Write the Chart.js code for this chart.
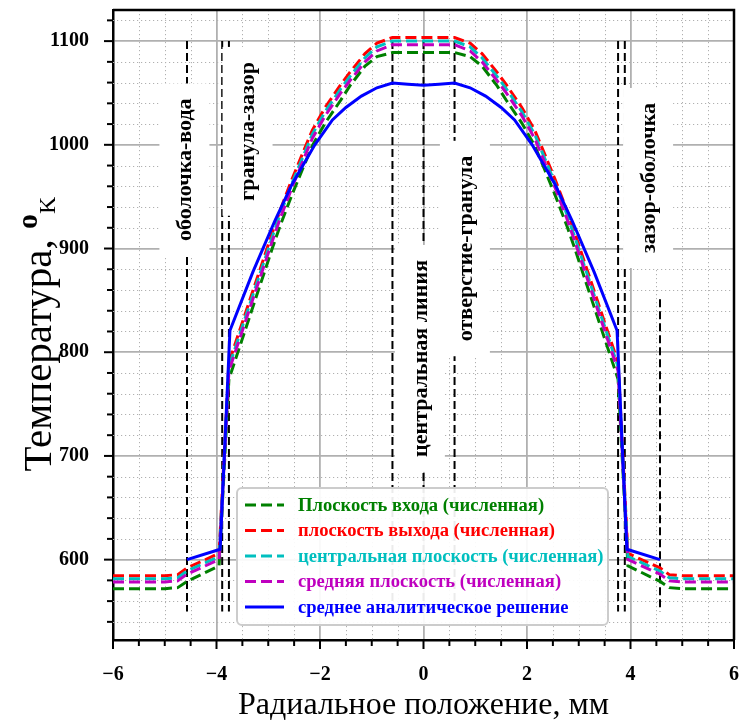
<!DOCTYPE html>
<html><head><meta charset="utf-8">
<script src="https://cdn.jsdelivr.net/npm/chart.js@4/dist/chart.umd.min.js"></script>
<style>html,body{margin:0;padding:0;background:#fff}</style>
</head><body>
<canvas id="c" width="742" height="722"></canvas>
<script>
// ---------- DATA ----------
const xNum = [-6,-5,-4.75,-4.57,-3.95,-3.76,-2.93,-2.77,-2.54,-2.35,-2.15,-1.9,-1.6,-1.42,-1.13,-0.9,-0.6,0,0.6,0.9,1.13,1.42,1.6,1.9,2.15,2.35,2.54,2.77,2.93,3.76,3.95,4.57,4.75,5,6];
const yInlet  = [572,572,573,579,594,774,899,922,952,975,999,1021,1043,1057,1076,1085,1089,1089,1089,1085,1076,1057,1043,1021,999,975,952,922,899,774,594,579,573,572,572];
const yOutlet = [584.5,584.5,585.5,592,606,790,914,937,967,990,1014,1036,1058,1070,1088,1098,1103.5,1103.5,1103.5,1098,1088,1070,1058,1036,1014,990,967,937,914,790,606,592,585.5,584.5,584.5];
const yCentral = [581.5,581.5,582.5,589,603,786,910,933,963,986,1010,1032,1054,1066,1084,1094.5,1100,1100,1100,1094.5,1084,1066,1054,1032,1010,986,963,933,910,786,603,589,582.5,581.5,581.5];
const yMiddle = [578.5,578.5,579.5,586,600,782,906,929,959,982,1006,1028,1050,1062,1080,1090.5,1096.5,1096.5,1096.5,1090.5,1080,1062,1050,1028,1006,982,959,929,906,782,600,586,579.5,578.5,578.5];
const xAna = [-4.57,-3.93,-3.74,-3.3,-2.87,-2.54,-2.1,-1.76,-1.5,-1.2,-0.9,-0.6,-0.3,0,0.3,0.6,0.9,1.2,1.5,1.76,2.1,2.54,2.87,3.3,3.74,3.93,4.57];
const yAna = [600,610,821,877,927,962,1000,1024,1036,1047,1055,1059.5,1058.5,1057.5,1058.5,1059.5,1055,1047,1036,1024,1000,962,927,877,821,610,600];
const seriesLabels = ['Плоскость входа (численная)','плоскость выхода (численная)','центральная плоскость (численная)','средняя плоскость (численная)','среднее аналитическое решение'];
const xTicks = [-6,-4,-2,0,2,4,6];
const yTicks = [600,700,800,900,1000,1100];
const interfaceX = [-4.57,-3.89,-3.76,-0.6,0,0.6,3.76,3.89,4.57];
const interfaceYmin = [550,550,550,550,550,550,550,550,550];
const interfaceYmax = [1100,1100,1100,1100,1100,1100,1100,1100,851];
const annoText = ['оболочка-вода','гранула-зазор','центральная линия','отверстие-гранула','зазор-оболочка'];
const annoX = [-4.62,-3.40,-0.07,0.80,4.34];
const annoY = [976,1013,794,900,968];
const xTitle = 'Радиальное положение, мм';
const yTitleMain = 'Температура, ';
const yTitleSup = 'o';
const yTitleSub = 'K';

// ---------- STYLE ----------
const SERIF = '"Liberation Serif", "Times New Roman", serif';
const colors = ['#008000','#ff0000','#00bfbf','#bf00bf','#0000ff'];
const toXY = (xs, ys) => xs.map((x, i) => ({x, y: ys[i]}));
const fmt = v => (v < 0 ? '\u2212' + Math.abs(v) : String(v));

const deco = {
  id: 'deco',
  beforeDatasetsDraw(chart) {
    const {ctx, chartArea: a, scales: {x, y}} = chart;
    ctx.save();
    ctx.beginPath(); ctx.rect(a.left, a.top, a.right - a.left, a.bottom - a.top); ctx.clip();
    // minor grid
    ctx.strokeStyle = '#b0b0b0'; ctx.lineWidth = 1; ctx.setLineDash([1.2, 2.8]);
    for (let v = -6; v <= 6.001; v += 0.5) {
      if (Math.abs(v / 2 - Math.round(v / 2)) < 1e-6) continue;
      const px = Math.round(x.getPixelForValue(v)) + 0.5;
      ctx.beginPath(); ctx.moveTo(px, a.top); ctx.lineTo(px, a.bottom); ctx.stroke();
    }
    for (let v = 540; v <= 1120; v += 20) {
      if (v % 100 === 0) continue;
      const py = Math.round(y.getPixelForValue(v)) + 0.5;
      ctx.beginPath(); ctx.moveTo(a.left, py); ctx.lineTo(a.right, py); ctx.stroke();
    }
    // interface lines
    ctx.strokeStyle = '#000'; ctx.lineWidth = 2; ctx.setLineDash([8, 4]);
    interfaceX.forEach((xv, i) => {
      const px = x.getPixelForValue(xv);
      ctx.beginPath();
      ctx.moveTo(px, y.getPixelForValue(interfaceYmax[i]));
      ctx.lineTo(px, y.getPixelForValue(interfaceYmin[i]));
      ctx.stroke();
    });
    ctx.setLineDash([]);
    // annotation boxes
    ctx.font = 'bold 22px ' + SERIF;
    annoText.forEach((t, i) => {
      const cx = x.getPixelForValue(annoX[i]);
      const cy = y.getPixelForValue(annoY[i]);
      const w = ctx.measureText(t).width;
      ctx.fillStyle = '#fff';
      ctx.fillRect(cx - 25, cy - w / 2 - 15, 50, w + 30);
      ctx.save();
      ctx.translate(cx, cy); ctx.rotate(-Math.PI / 2);
      ctx.fillStyle = '#000'; ctx.textAlign = 'center'; ctx.textBaseline = 'middle';
      ctx.fillText(t, 0, 1);
      ctx.restore();
    });
    ctx.restore();
  },
  afterDraw(chart) {
    const {ctx, chartArea: a, scales: {x, y}} = chart;
    ctx.save();
    // frame top/right
    ctx.strokeStyle = '#000'; ctx.lineWidth = 2.5;
    ctx.beginPath();
    ctx.moveTo(a.left, a.top); ctx.lineTo(a.right, a.top); ctx.lineTo(a.right, a.bottom);
    ctx.stroke();
    // ticks
    ctx.lineWidth = 2;
    for (let v = -6; v <= 6.001; v += 0.5) {
      const major = Math.abs(v / 2 - Math.round(v / 2)) < 1e-6;
      const px = x.getPixelForValue(v);
      ctx.beginPath(); ctx.moveTo(px, a.bottom); ctx.lineTo(px, a.bottom + (major ? 9 : 6)); ctx.stroke();
    }
    for (let v = 540; v <= 1120; v += 20) {
      const major = v % 100 === 0;
      const py = y.getPixelForValue(v);
      ctx.beginPath(); ctx.moveTo(a.left, py); ctx.lineTo(a.left - (major ? 9 : 6), py); ctx.stroke();
    }
    // titles
    ctx.fillStyle = '#000'; ctx.textAlign = 'center'; ctx.textBaseline = 'alphabetic';
    ctx.font = '32px ' + SERIF;
    ctx.fillText(xTitle, (a.left + a.right) / 2, 714);
    ctx.save();
    ctx.translate(51, 334); ctx.rotate(-Math.PI / 2);
    const f1 = '41px ' + SERIF, f2 = 'bold 30px ' + SERIF, f3 = '24px ' + SERIF;
    ctx.font = f1; const w1 = ctx.measureText(yTitleMain).width;
    ctx.font = f2; const w2 = ctx.measureText(yTitleSup).width;
    ctx.font = f3; const w3 = ctx.measureText(yTitleSub).width;
    const x0 = -(w1 + w2 + w3) / 2;
    ctx.textAlign = 'left';
    ctx.font = f1; ctx.fillText(yTitleMain, x0, 0);
    ctx.font = f2; ctx.fillText(yTitleSup, x0 + w1, -14);
    ctx.font = f3; ctx.fillText(yTitleSub, x0 + w1 + w2, 4);
    ctx.restore();
    // legend
    const L = 237, T = 488, W = 371, H = 137, r = 5;
    ctx.beginPath();
    ctx.moveTo(L + r, T); ctx.lineTo(L + W - r, T); ctx.arcTo(L + W, T, L + W, T + r, r);
    ctx.lineTo(L + W, T + H - r); ctx.arcTo(L + W, T + H, L + W - r, T + H, r);
    ctx.lineTo(L + r, T + H); ctx.arcTo(L, T + H, L, T + H - r, r);
    ctx.lineTo(L, T + r); ctx.arcTo(L, T, L + r, T, r); ctx.closePath();
    ctx.fillStyle = 'rgba(255,255,255,0.92)'; ctx.fill();
    ctx.strokeStyle = '#cccccc'; ctx.lineWidth = 2; ctx.stroke();
    ctx.font = 'bold 18.6px ' + SERIF; ctx.textBaseline = 'middle'; ctx.textAlign = 'left';
    chart.data.datasets.forEach((ds, i) => {
      const ry = 505 + i * 25.5;
      ctx.strokeStyle = ds.borderColor; ctx.lineWidth = 3;
      ctx.setLineDash(ds.borderDash || []);
      ctx.beginPath(); ctx.moveTo(245, ry); ctx.lineTo(284, ry); ctx.stroke();
      ctx.setLineDash([]);
      ctx.fillStyle = ds.borderColor;
      ctx.fillText(ds.label, 298, ry + 1);
    });
    ctx.restore();
  }
};

const mk = (i, xs, ys, dash, order) => ({
  label: seriesLabels[i], data: toXY(xs, ys), borderColor: colors[i], backgroundColor: colors[i],
  borderWidth: 3, borderDash: dash, pointRadius: 0, tension: 0, fill: false, order
});

new Chart(document.getElementById('c'), {
  type: 'line',
  data: {
    datasets: [
      mk(0, xNum, yInlet, [11, 5], 5),
      mk(1, xNum, yOutlet, [11, 5], 4),
      mk(2, xNum, yCentral, [11, 5], 3),
      mk(3, xNum, yMiddle, [11, 5], 2),
      mk(4, xAna, yAna, undefined, 1)
    ]
  },
  options: {
    responsive: false, animation: false, devicePixelRatio: 1,
    layout: {padding: {top: 10, right: 8, left: 0, bottom: 0}, autoPadding: false},
    plugins: {legend: {display: false}, tooltip: {enabled: false}},
    scales: {
      x: {
        type: 'linear', min: -6, max: 6,
        afterBuildTicks: s => { s.ticks = xTicks.map(v => ({value: v})); },
        afterFit: s => { s.height = 82; s.paddingLeft = 0; s.paddingRight = 0; s.paddingTop = 0; s.paddingBottom = 0; },
        grid: {color: '#b0b0b0', lineWidth: 1.8, drawTicks: false},
        border: {color: '#000', width: 2.5},
        ticks: {font: {family: SERIF, size: 20, weight: 'bold'}, color: '#000', padding: 23, maxRotation: 0, autoSkip: false, callback: v => fmt(v)}
      },
      y: {
        type: 'linear', min: 522.5, max: 1130,
        afterBuildTicks: s => { s.ticks = yTicks.map(v => ({value: v})); },
        afterFit: s => { s.width = 113; s.paddingLeft = 0; s.paddingRight = 0; s.paddingTop = 0; s.paddingBottom = 0; },
        grid: {color: '#b0b0b0', lineWidth: 1.8, drawTicks: false},
        border: {color: '#000', width: 2.5},
        ticks: {font: {family: SERIF, size: 20, weight: 'bold'}, color: '#000', padding: 24, autoSkip: false, callback: v => fmt(v)}
      }
    }
  },
  plugins: [deco]
});
</script>
</body></html>
